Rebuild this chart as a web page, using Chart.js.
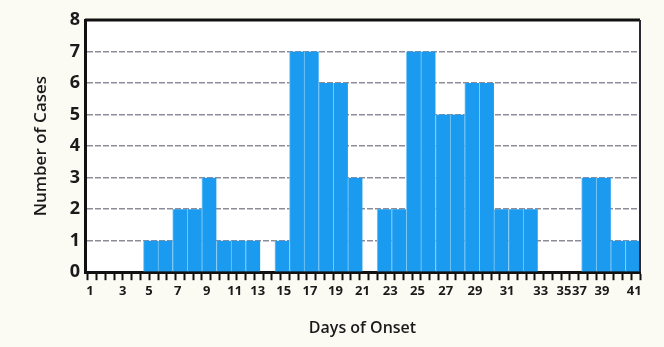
<!DOCTYPE html>
<html>
<head>
<meta charset="utf-8">
<script src="https://cdn.jsdelivr.net/npm/chart.js@4.4.1/dist/chart.umd.min.js"></script>
<style>
    html, body { margin: 0; padding: 0; background: #fbfbf4; }
    #wrap { width: 664px; height: 347px; position: relative; }
</style>
</head>
<body>
<div id="wrap"><canvas id="onset-chart"></canvas></div>
<script>
// one bin per day
const days = [1, 2, 3, 4, 5, 6, 7, 8, 9, 10, 11, 12, 13, 14, 15, 16, 17, 18, 19,
              20, 21, 22, 23, 24, 25, 26, 27, 28, 29, 30, 31, 32, 33, 34, 35, 36, 37, 38];
const cases = [0, 0, 0, 0, 1, 1, 2, 2, 3, 1, 1, 1, 0, 1, 7, 7, 6, 6, 3,
               0, 2, 2, 7, 7, 5, 5, 6, 6, 2, 2, 2, 0, 0, 0, 3, 3, 1, 1];

const xTickLabels = ['1', '3', '5', '7', '9', '11', '13', '15', '17', '19', '21',
                     '23', '25', '27', '29', '31', '33', '35', '37', '39', '41'];
const yTickLabels = ['0', '1', '2', '3', '4', '5', '6', '7', '8'];

// where each x label sits along the bins (labels drift in the original)
const xLabelAt = [0.34, 2.58, 4.38, 6.34, 8.34, 10.25, 11.82, 13.6, 15.4, 17.15, 19.0,
                  20.9, 22.76, 24.7, 26.7, 28.9, 31.2, 32.8, 33.85, 35.4, 37.6];

const frame = {
    id: 'frame',
    beforeDraw(chart) {
        const { ctx, chartArea: a } = chart;
        ctx.save();
        ctx.fillStyle = '#ffffff';
        ctx.fillRect(a.left, a.top, a.right - a.left, a.bottom - a.top);
        ctx.restore();
    },
    afterDatasetsDraw(chart) {
        const { ctx, chartArea: a } = chart;
        ctx.save();
        ctx.strokeStyle = '#111';
        ctx.lineWidth = 3;
        ctx.beginPath();
        ctx.moveTo(a.left, a.top);
        ctx.lineTo(a.right, a.top);
        ctx.stroke();
        ctx.lineWidth = 2;
        ctx.strokeStyle = '#2a2a35';
        ctx.beginPath();
        ctx.moveTo(a.right, a.top);
        ctx.lineTo(a.right, a.bottom);
        ctx.stroke();
        ctx.restore();
    }
};

const ctx = document.getElementById('onset-chart').getContext('2d');
const chart = new Chart(ctx, {
    type: 'bar',
    data: {
        datasets: [{
            label: 'Number of Cases',
            xAxisID: 'x',
            yAxisID: 'y',
            data: days.map((d, i) => ({ x: d - 0.5, y: cases[i] })),
            backgroundColor: '#1b9bf0',
            borderColor: '#7fcaf4',
            borderWidth: { left: 1, right: 0, top: 0, bottom: 0 },
            borderSkipped: false,
            barPercentage: 1,
            categoryPercentage: 1
        }]
    },
    options: {
        responsive: true,
        maintainAspectRatio: false,
        animation: false,
        layout: { padding: { left: 31, right: 24, top: 20, bottom: 9 } },
        plugins: {
            legend: { display: false },
            tooltip: { enabled: false }
        },
        scales: {
            x: {
                type: 'linear',
                position: 'bottom',
                weight: 1,
                min: 0,
                max: days.length,
                offset: false,
                afterBuildTicks(axis) {
                    axis.ticks = xLabelAt.map(v => ({ value: v }));
                },
                ticks: {
                    autoSkip: false,
                    maxRotation: 0,
                    padding: 3,
                    color: '#1a1a1a',
                    font: { family: 'Open Sans', size: 13, weight: 'bold' },
                    callback(value) {
                        const i = xLabelAt.indexOf(value);
                        return i >= 0 ? xTickLabels[i] : '';
                    }
                },
                grid: { display: false, drawTicks: false },
                border: { display: false },
                title: {
                    display: true,
                    text: 'Days of Onset',
                    color: '#1a1a1a',
                    padding: { top: 17, bottom: 0 },
                    font: { family: 'Open Sans', size: 16, weight: '600' }
                }
            },
            // small tick marks along the bottom axis
            xMinor: {
                type: 'linear',
                position: 'bottom',
                weight: 0,
                min: 0,
                max: days.length,
                offset: false,
                afterBuildTicks(axis) {
                    const ticks = [];
                    for (let v = 0.5; v < days.length; v += 0.6) ticks.push({ value: v });
                    axis.ticks = ticks;
                },
                ticks: { display: false },
                grid: {
                    drawOnChartArea: false,
                    drawTicks: true,
                    tickLength: 8,
                    tickWidth: 2,
                    color: '#111'
                },
                border: { display: true, color: '#111', width: 3 }
            },
            y: {
                min: 0,
                max: 8,
                afterFit(axis) { axis.width = 54; },
                ticks: {
                    stepSize: 1,
                    padding: 5,
                    color: '#1a1a1a',
                    font: { family: 'Open Sans', size: 18, weight: 'bold' },
                    callback: (value) => yTickLabels[value]
                },
                grid: {
                    drawTicks: false,
                    color: (c) => (c.tick.value === 0 || c.tick.value === 8) ? 'rgba(0,0,0,0)' : 'rgba(80,80,100,0.65)',
                    lineWidth: 1.5
                },
                border: { display: true, color: '#111', width: 3, dash: [6, 2] },
                title: {
                    display: true,
                    text: 'Number of Cases',
                    color: '#1a1a1a',
                    padding: { top: 0, bottom: 2 },
                    font: { family: 'Open Sans', size: 17, weight: '600' }
                }
            }
        }
    },
    plugins: [frame]
});
</script>
</body>
</html>
